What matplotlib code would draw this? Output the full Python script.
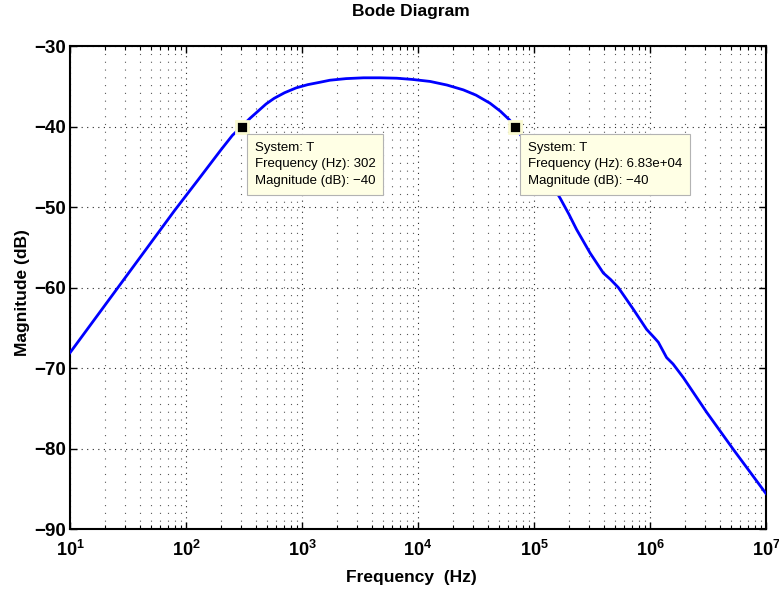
import matplotlib
matplotlib.use('Agg')
import matplotlib.pyplot as plt
from matplotlib.ticker import FixedLocator, FixedFormatter, LogLocator, NullFormatter

plt.rcParams['font.family'] = ['Liberation Sans', 'DejaVu Sans']
plt.rcParams['mathtext.fontset'] = 'custom'
plt.rcParams['mathtext.rm'] = 'Liberation Sans'
plt.rcParams['mathtext.bf'] = 'Liberation Sans:bold'

# magnitude curve (Hz, dB)
freq = [1.0e1, 2.0e1, 4.0e1, 8.0e1, 1.26e2, 2.0e2, 2.51e2, 3.02e2, 3.55e2,
        4.17e2, 4.9e2, 5.75e2, 7.08e2, 8.91e2, 1.12e3, 1.43e3, 1.74e3,
        2.4e3, 3.39e3, 4.68e3, 6.55e3, 8.91e3, 1.27e4, 1.78e4, 2.46e4,
        3.16e4, 4.17e4, 5.13e4, 6.17e4, 6.83e4, 8.32e4, 1.0e5, 1.29e5,
        1.68e5, 2.0e5, 2.33e5, 3.04e5, 3.96e5, 4.57e5, 5.33e5, 7.18e5,
        9.35e5, 1.1e6, 1.18e6, 1.39e6, 1.58e6, 1.94e6, 3.08e6, 5.22e6, 1.0e7]
mag = [-68.1, -62.2, -56.3, -50.4, -46.7, -42.9, -41.1, -40.0, -39.0,
       -38.1, -37.2, -36.5, -35.8, -35.2, -34.8, -34.5, -34.25,
       -34.05, -33.95, -33.95, -34.0, -34.15, -34.4, -34.85, -35.45,
       -36.1, -37.1, -38.1, -39.2, -40.0, -41.8, -43.6, -46.2,
       -48.9, -50.9, -52.8, -55.7, -58.2, -59.0, -60.0, -62.7,
       -65.2, -66.3, -66.8, -68.7, -69.5, -71.2, -75.5, -80.1, -85.6]

# data tips
tip_freq = [302, 6.83e4]
tip_mag = [-40, -40]
tip_freq_txt = ['302', '6.83e+04']

xticks = [1e1, 1e2, 1e3, 1e4, 1e5, 1e6, 1e7]
xticklabels = [r'$\mathbf{10^{%d}}$' % e for e in range(1, 8)]
yticks = [-90, -80, -70, -60, -50, -40, -30]

fig = plt.figure(figsize=(7.79, 5.96), dpi=100)
ax = fig.add_axes([0.0899, 0.1124, 0.8934, 0.8104])

ax.semilogx(freq, mag, color='#0000ff', lw=2.0, zorder=3)

ax.set_xlim(1e1, 1e7)
ax.set_ylim(-90, -30)
ax.xaxis.set_major_locator(FixedLocator(xticks))
ax.xaxis.set_major_formatter(FixedFormatter(xticklabels))
ax.xaxis.set_minor_locator(LogLocator(base=10, subs=range(2, 10), numticks=20))
ax.xaxis.set_minor_formatter(NullFormatter())
ax.set_yticks(yticks)

ax.grid(True, which='major', ls=(0, (1, 4)), color='0.15', lw=0.8)
ax.grid(True, which='minor', axis='x', ls=(0, (1, 6)), color='0.35', lw=0.8)

ax.tick_params(which='both', direction='in', top=True, right=True)
ax.tick_params(which='major', length=5, width=1.0)
ax.tick_params(which='minor', length=3, width=0.8)
ax.tick_params(axis='x', which='major', pad=8, labelsize=13)
ax.tick_params(axis='y', which='major', pad=3, labelsize=13.5)
for lab in ax.get_yticklabels():
    lab.set_fontweight('bold')
for sp in ax.spines.values():
    sp.set_linewidth(1.5)

ax.set_xlabel('Frequency  (Hz)', fontsize=12.5, fontweight='bold')
ax.xaxis.set_label_coords(0.49, -0.085)
ax.set_ylabel('Magnitude (dB)', fontsize=12.5, fontweight='bold')
ax.yaxis.set_label_coords(-0.057, 0.49)
fig.text(0.5276, 0.9805, 'Bode Diagram', ha='center', va='center',
         fontsize=12.5, fontweight='bold')

for f, m, ft in zip(tip_freq, tip_mag, tip_freq_txt):
    ax.plot(f, m, marker='s', ms=8.5, mfc='k', mec='#fafad2', mew=2,
            zorder=5, clip_on=False)
    ax.annotate('System: T\nFrequency (Hz): %s\nMagnitude (dB): \u2212%d' % (ft, abs(m)),
                xy=(f, m), xytext=(13, -15), textcoords='offset pixels',
                ha='left', va='top', fontsize=9.5, linespacing=1.55,
                bbox=dict(boxstyle='square,pad=0.6', fc='#ffffe5', ec='0.7', lw=0.8),
                zorder=6)

fig.savefig('out.png', dpi=100)
